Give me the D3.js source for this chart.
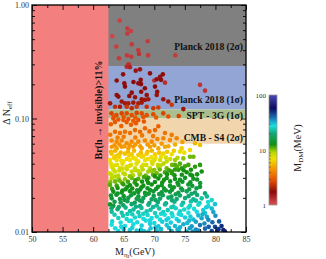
<!DOCTYPE html>
<html>
<head>
<meta charset="utf-8">
<script src="https://cdn.jsdelivr.net/npm/d3@7"></script>
<style>
  body { margin: 0; background: #fff; }
  svg { display: block; font-family: "Liberation Serif", "DejaVu Serif", serif; }
</style>
</head>
<body>
<script>
// ---- data ----
const xMajor = [50, 55, 60, 65, 70, 75, 80, 85]
const xMinor = [52.5, 57.5, 62.5, 67.5, 72.5, 77.5, 82.5]
const yMajor = [1, 0.1, 0.01]
const yMajorLabels = ['1.00', '0.10', '0.01']
const cbMajor = [1, 10, 100]

const higgsCut = 62.5          // Br(h -> invisible) > 11% for M below this
const bandLimits = [[0.29, 1.0], [0.12, 0.29], [0.10, 0.12], [0.06, 0.10]]
const bandNames = ['Planck 2018 (2σ)', 'Planck 2018 (1σ)', 'SPT - 3G (1σ)', 'CMB - S4 (2σ)']

// colour bar stops (M_DM in MeV)
const cStops = [1, 1.74, 2.75, 4.37, 6.9, 9.1, 12.6, 20, 27.5, 40, 57.5, 100]
const cColors = ['#e05050', '#8b0a0a', '#e44c00', '#f59000', '#f0e000', '#b8d800',
                 '#129012', '#10a878', '#18e0e0', '#1868b0', '#0a0a60', '#4a4ab8']

// points: [M_eta (GeV), Delta N_eff, M_DM (MeV)]
const ptsPlanck2 = [
  [64.34,0.73,1.15],[65.59,0.62,1.2],[66.19,0.59,1.15],[65.59,0.56,1.2],[63.13,0.53,1.1],[68.92,0.48,1.2],
  [63.79,0.43,1.15],[66.31,0.45,1.2],[67.39,0.40,1.2],[67.5,0.37,1.25],[65.54,0.36,1.2],[66.24,0.35,1.2],
  [64.23,0.34,1.2],[69.0,0.36,1.2],[73.44,0.36,1.2],[65.82,0.30,1.25]
]
const ptsPlanck1 = [
  [65.75,0.296,1.3],[65.49,0.286,1.35],[66.03,0.283,1.4],[66.96,0.264,1.6],[67.66,0.271,1.6],[63.85,0.216,1.7],
  [67.78,0.219,1.7],[67.39,0.204,1.7],[67.83,0.201,1.75],[65.1,0.204,1.7],[65.21,0.191,1.75],[70.0,0.216,1.3],
  [70.4,0.222,1.7],[70.94,0.233,1.65],[71.1,0.219,1.7],[70.12,0.191,1.75],[71.75,0.207,1.3],[77.48,0.198,1.25],
  [78.3,0.176,1.25],[68.46,0.185,1.75],[67.86,0.172,1.8],[70.48,0.172,1.8],[66.31,0.169,1.8],[63.85,0.161,1.8],
  [64.12,0.156,1.8],[65.91,0.158,1.8],[66.85,0.154,1.85],[68.76,0.161,1.8],[70.4,0.161,1.85],[67.94,0.148,1.85],
  [68.48,0.146,1.9],[69.02,0.148,1.9],[71.47,0.148,1.85],[72.29,0.141,1.9],[62.76,0.136,1.9],[64.67,0.141,1.9],
  [65.21,0.136,1.95],[65.75,0.136,2.0],[66.57,0.138,1.9],[67.39,0.136,2.0],[67.94,0.138,1.95],[72.85,0.132,2.4],
  [74.75,0.121,1.9],[63.58,0.127,2.3],[64.39,0.127,2.0],[65.49,0.127,2.4],[66.31,0.123,2.2],[67.12,0.127,2.4],
  [68.76,0.127,2.3],[69.84,0.123,2.4],[70.66,0.125,2.5],[64.9,0.245,1.7],[66.6,0.21,1.75],[69.3,0.25,1.7],
  [71.4,0.245,1.7]
]
const ptsSpt = [
  [63.0,0.111,2.6],[63.8,0.107,2.7],[64.67,0.111,2.6],[65.49,0.111,2.7],[66.31,0.107,2.8],[67.12,0.112,2.6],
  [67.94,0.111,2.7],[68.76,0.107,2.8],[69.84,0.109,2.7],[71.47,0.111,2.6],[72.29,0.104,2.8],[63.4,0.104,2.9],
  [65.0,0.103,2.9],[66.9,0.102,3.0],[68.2,0.103,2.9],[70.3,0.102,3.0],[74.0,0.105,2.6]
]
const ptsCmbs4 = [
  [63.30,0.100,2.8],[64.12,0.098,2.9],[64.94,0.097,2.9],[65.76,0.099,2.8],[66.57,0.0955,3.0],[67.39,0.097,2.9],
  [65.48,0.093,3.0],[63.58,0.093,3.0],[68.3,0.094,3.0],[62.9,0.089,3.1],[66.2,0.088,3.1],[67.0,0.091,3.0],
  [64.6,0.086,3.2],[70.66,0.0855,3.2],[70.12,0.079,3.3],[68.48,0.082,3.3],[67.67,0.0765,3.4],[66.85,0.079,3.4],
  [66.03,0.0745,3.5],[65.21,0.0765,3.5],[64.39,0.0745,3.5],[63.58,0.0765,3.4],[69.2,0.077,3.4],[62.8,0.072,3.6],
  [71.75,0.0745,3.6],[72.85,0.0717,3.8],[73.66,0.067,4.0],[72.57,0.0645,4.2],[71.48,0.067,4.0],[63.03,0.064,4.1],
  [63.85,0.0625,4.2],[64.67,0.064,4.1],[65.48,0.0605,4.3],[66.3,0.0625,4.2],[67.39,0.0625,4.2],[68.48,0.064,4.1],
  [69.57,0.0625,4.2],[70.5,0.066,4.0],[65.0,0.069,3.8],[66.9,0.068,3.8],[68.0,0.071,3.7],[69.8,0.070,3.7],
  [64.0,0.068,3.8],[76.66,0.0605,5.5],[74.6,0.062,4.8]
]
const ptsBelow = [
  [63.03,0.0563,4.6],[63.85,0.0545,4.8],[64.67,0.0563,4.6],[65.76,0.0545,4.8],[66.57,0.0563,4.7],[67.94,0.0545,4.9],
  [69.3,0.0563,4.8],[70.66,0.0545,5.0],[71.75,0.0563,5.0],[77.48,0.0584,5.8],[74.48,0.0545,6.2],[75.84,0.0527,6.5],
  [63.5,0.058,4.5],[64.3,0.059,4.4],[65.1,0.057,4.6],[66.0,0.058,4.5],[66.9,0.059,4.5],[67.7,0.057,4.7],
  [68.9,0.059,4.6],[70.0,0.058,4.7],[71.2,0.060,4.6],[72.3,0.057,5.0],[73.4,0.059,5.2],
  [62.9,0.051,5.4],[63.6,0.052,5.3],[64.5,0.050,5.6],[65.7,0.051,5.5],[66.7,0.052,5.4],[67.8,0.050,5.6],
  [68.9,0.051,5.6],[69.6,0.052,5.5],[70.8,0.050,5.8],[72.1,0.051,6.0],[73.2,0.052,6.2],[74.9,0.050,7.0],
  [63.03,0.049,5.8],[64.12,0.0477,6.0],[65.21,0.049,5.8],[66.3,0.0484,6.0],[67.39,0.0477,6.1],[68.76,0.049,6.0],
  [70.12,0.0484,6.2],[71.48,0.049,6.4],[72.85,0.0484,6.8],[74.21,0.0511,7.2],
  [63.4,0.045,6.4],[64.3,0.046,6.3],[65.5,0.044,6.6],[66.6,0.045,6.5],[67.9,0.046,6.5],[68.9,0.044,6.8],
  [70.2,0.045,7.0],[71.1,0.046,7.2],[72.6,0.044,8.0],[73.8,0.045,9.0],[76.4,0.046,10.5],
  [62.76,0.0431,6.8],[63.85,0.0431,6.8],[64.94,0.0418,7.0],[66.03,0.0431,6.9],[67.39,0.0418,7.1],[68.48,0.0431,7.0],
  [69.57,0.0418,7.4],[70.94,0.0431,7.8],[72.03,0.0418,8.5],[73.39,0.0431,9.5],[74.75,0.0445,10],[75.84,0.046,10.5],
  [62.9,0.040,7.2],[63.9,0.039,7.4],[64.8,0.040,7.3],[66.2,0.039,7.5],[67.1,0.040,7.4],[68.2,0.039,7.6],
  [69.7,0.040,7.8],[70.6,0.039,8.5],[71.5,0.040,9.0],[72.9,0.039,10.5],[74.2,0.040,11],[75.0,0.038,11.5],
  [63.03,0.0376,7.6],[64.39,0.0364,7.8],[65.48,0.0376,7.7],[66.85,0.0364,8.0],[67.94,0.0376,8.0],[69.3,0.0364,8.6],
  [70.66,0.0376,9.2],[72.03,0.0364,10.5],[73.39,0.039,11],[74.48,0.0364,12],[75.57,0.039,11.5],[76.66,0.0376,12],
  [77.48,0.039,12],
  [63.3,0.0355,8.0],[64.3,0.0348,8.2],[65.5,0.0357,8.1],[66.9,0.0350,8.5],[68.1,0.0355,8.8],[69.5,0.0347,9.5],
  [70.9,0.0356,10.5],[72.4,0.0349,11.5],[73.4,0.0355,12],[74.8,0.0350,12.5],[76.0,0.0354,12.5],
  [62.7,0.0329,8.3],[63.58,0.0341,8.1],[64.94,0.0329,8.4],[66.3,0.0341,8.5],[67.67,0.0329,9.0],[69.03,0.0341,9.5],
  [70.39,0.0329,10.5],[71.75,0.0336,11.5],[72.85,0.0341,12],[73.94,0.0353,12],[75.3,0.0336,12.5],[77.75,0.0341,13],
  [63.0,0.0320,8.6],[64.1,0.0315,8.8],[65.2,0.0322,8.8],[66.5,0.0316,9.2],[67.6,0.0321,9.6],[68.6,0.0314,10.5],
  [69.8,0.0320,11],[71.0,0.0315,12],[72.1,0.0322,12.5],[73.3,0.0316,12.5],[74.5,0.0319,13],[76.2,0.0314,13],
  [77.0,0.0322,13],
  [63.03,0.0297,9.0],[64.12,0.0303,9.2],[65.21,0.0292,9.8],[66.3,0.0299,10.5],[67.39,0.0294,11],[69.03,0.0301,12],
  [70.66,0.0296,12.5],[72.03,0.0299,13],[73.39,0.0293,13],[75.03,0.0300,13.5],[76.39,0.0295,13.5],
  [62.8,0.0275,10],[63.6,0.0279,10.5],[64.7,0.0272,11],[65.7,0.0277,11.5],[66.8,0.0273,12],[68.0,0.0278,12.5],
  [69.0,0.0271,12.5],[70.1,0.0276,13],[71.3,0.0273,13],[72.6,0.0279,13.5],[73.8,0.0272,13.5],[74.6,0.0277,14],
  [75.9,0.0274,14],[77.5,0.0270,15],
  [62.76,0.0260,11],[63.85,0.0257,11.5],[64.94,0.0263,12],[66.03,0.0258,12.5],[67.12,0.0261,12.5],[68.21,0.0256,13],
  [69.57,0.0262,13],[71.21,0.0258,13.5],[72.57,0.0255,14],[73.94,0.0260,14],[75.57,0.0262,14.5],[77.48,0.0250,15],
  [63.1,0.0240,12],[64.0,0.0244,12.5],[65.3,0.0238,13],[66.4,0.0242,13],[67.7,0.0237,13.5],[68.9,0.0243,13.5],
  [70.3,0.0239,14],[71.6,0.0241,14],[72.9,0.0236,14.5],[74.4,0.0242,15],[75.7,0.0238,15.5],[76.9,0.0243,16],
  [63.3,0.0227,13],[64.67,0.0223,13.5],[66.03,0.0229,13.5],[67.39,0.0225,14],[68.48,0.0221,14],[69.85,0.0228,14.5],
  [71.21,0.0224,15],[72.57,0.0226,15],[73.94,0.0222,16],[75.3,0.0228,17],[76.66,0.0223,18],[78.3,0.0219,20],
  [62.9,0.0210,14],[63.8,0.0213,14],[65.0,0.0207,14.5],[66.2,0.0211,15],[67.4,0.0206,15],[68.6,0.0212,15.5],
  [69.9,0.0208,16],[71.4,0.0211,16.5],[72.8,0.0205,17],[74.2,0.0210,18],[75.6,0.0207,19],[77.0,0.0212,20],
  [78.6,0.0206,22],
  [63.03,0.0198,15],[64.39,0.0195,15.5],[65.76,0.0200,16],[67.12,0.0196,16.5],[68.21,0.0199,17],[69.57,0.0194,17.5],
  [70.94,0.0197,18],[72.3,0.0201,18.5],[73.66,0.0195,19],[75.03,0.0199,20],[76.39,0.0194,21],[77.75,0.0198,23],
  [79.39,0.0191,26],
  [63.5,0.0185,16],[64.5,0.0182,16.5],[65.6,0.0187,17],[66.8,0.0181,17.5],[68.0,0.0186,18],[69.2,0.0180,19],
  [70.6,0.0184,19.5],[71.9,0.0179,20],[73.3,0.0185,21],[74.7,0.0181,22],[76.0,0.0186,23],[77.4,0.0180,25],
  [78.8,0.0184,27],
  [62.76,0.0175,14],[63.3,0.0170,15],[64.94,0.0172,18],[66.3,0.0176,19],[67.67,0.0169,20],[69.03,0.0174,21],
  [70.39,0.0171,22],[71.75,0.0175,22],[73.12,0.0168,23],[74.48,0.0173,24],[75.84,0.0170,25],[77.21,0.0174,26],
  [78.84,0.0169,28],[79.93,0.0176,30],
  [63.0,0.0162,19],[64.0,0.0159,20],[65.3,0.0164,21],[66.6,0.0158,22],[67.9,0.0163,22],[69.4,0.0157,23],
  [70.8,0.0161,23],[72.2,0.0156,24],[73.5,0.0162,25],[74.9,0.0158,26],[76.5,0.0160,27],[78.0,0.0156,29],
  [79.4,0.0161,31],
  [63.03,0.0151,22],[64.67,0.0148,23],[66.03,0.0153,23],[67.39,0.0149,24],[68.76,0.0152,24],[70.12,0.0147,25],
  [71.48,0.0150,25],[72.85,0.0146,26],[74.21,0.0152,26],[75.57,0.0148,27],[76.94,0.0151,28],[78.3,0.0147,30],
  [79.66,0.0150,33],
  [63.5,0.0142,24],[64.9,0.0139,24],[66.4,0.0143,25],[67.6,0.0138,25],[68.9,0.0141,26],[70.4,0.0137,26],
  [71.7,0.0142,27],[73.0,0.0138,27],[74.4,0.0141,28],[75.9,0.0137,29],[77.2,0.0140,31],[78.6,0.0136,33],
  [80.0,0.0139,35],
  [64.12,0.0133,25],[65.48,0.0130,26],[66.85,0.0134,26],[68.21,0.0131,27],[69.57,0.0133,27],[70.94,0.0129,27],
  [72.3,0.0132,28],[73.66,0.0130,28],[75.03,0.0134,29],[76.39,0.0129,31],[77.75,0.0132,33],[78.84,0.0128,36],
  [63.1,0.0124,26],[64.5,0.0121,27],[65.9,0.0125,27],[67.2,0.0122,28],[68.6,0.0126,28],[70.0,0.0120,28],
  [71.3,0.0123,29],[72.7,0.0121,29],[74.0,0.0125,30],[75.4,0.0120,31],[76.8,0.0123,33],[78.2,0.0119,36],
  [79.5,0.0122,40],
  [63.03,0.0116,27],[65.21,0.0113,28],[66.57,0.0117,28],[67.94,0.0114,29],[69.3,0.0118,29],[70.66,0.0112,30],
  [72.03,0.0115,30],[73.39,0.0113,31],[74.75,0.0117,32],[76.12,0.0112,34],[77.48,0.0115,38],[79.93,0.0111,45],
  [63.6,0.0108,28],[65.0,0.0106,29],[66.4,0.0109,29],[67.8,0.0105,30],[69.4,0.0108,30],[71.1,0.0106,31],
  [72.4,0.0109,31],[73.8,0.0105,32],[75.8,0.0108,34],[76.8,0.0105,36],[78.3,0.0107,40],[80.5,0.0106,48],
  [64.12,0.0102,28],[67.12,0.0103,29],[69.03,0.0101,30],[70.39,0.0103,30],[72.85,0.0102,31],[75.3,0.0101,33],
  [77.21,0.0103,36],[79.39,0.0102,45],[81.3,0.0104,52],[81.57,0.0101,55]
]
// scattered points between the rows above
const ptsFill = [
  [63.7,0.0465,6.2],[65.9,0.0472,6.3],[68.2,0.0468,6.4],[69.5,0.0455,6.8],[64.6,0.0425,6.9],[67.0,0.0438,7.0],
  [70.0,0.0428,7.6],[71.9,0.0452,7.8],[63.4,0.0385,7.4],[65.9,0.0382,7.6],[68.7,0.0390,7.9],[71.0,0.0385,9.0],
  [73.7,0.0378,11],[64.8,0.0362,8],[67.4,0.0344,8.8],[70.0,0.0352,10],[72.9,0.0330,12],[75.9,0.0320,13],
  [63.6,0.0308,9],[66.0,0.0310,10],[68.3,0.0305,11.5],[70.1,0.0309,12.5],[71.6,0.0288,13],[74.2,0.0289,13.5],
  [77.0,0.0290,14],[64.3,0.0285,10.5],[66.9,0.0285,12],[68.8,0.0288,12.5],[65.6,0.0250,12.5],[67.9,0.0248,13],
  [70.6,0.0250,13.5],[73.2,0.0248,14],[76.2,0.0255,15],[64.8,0.0232,13],[67.2,0.0233,14],[69.3,0.0234,14],
  [71.9,0.0232,15],[74.6,0.0234,16],[64.0,0.0218,14],[66.7,0.0219,14.5],[69.1,0.0218,15],[70.8,0.0216,16],
  [73.5,0.0215,17],[76.1,0.0217,19],[65.1,0.0192,15.5],[67.6,0.0190,16.5],[70.2,0.0191,18],[72.9,0.0190,19.5],
  [76.8,0.0189,22],[64.2,0.0166,19],[67.0,0.0167,21],[69.8,0.0166,22],[72.8,0.0165,24],[75.6,0.0164,26],
  [78.5,0.0165,29],[65.6,0.0144,24],[68.2,0.0145,25],[71.1,0.0145,26],[74.0,0.0144,28],[77.9,0.0143,32],
  [66.2,0.0126,27],[69.3,0.0127,28],[72.0,0.0128,29],[75.7,0.0126,31],[80.6,0.0124,42],[64.6,0.0111,28],
  [70.2,0.0110,30],[74.2,0.0110,32],[78.9,0.0111,42],[81.0,0.0113,50],[66.0,0.0104,29],[68.3,0.0102,30],
  [74.0,0.0103,32],[76.3,0.0101,34],[80.3,0.0102,50]
]

// ---- layout / style ----
const W = 326, H = 259
const plot = { left: 32, right: 246, top: 5, bottom: 232 }
const cb = { left: 269, right: 277, top: 95, bottom: 205 }
const bandColors = ['#808080', '#92a5d5', '#aabf8d', '#f1d5ad']
const cutColor = '#f47f7f'
const bandLabelAt = [0.43, 0.148, 0.106, 0.068]

const svg = d3.select('body').append('svg')
  .attr('width', W)
  .attr('height', H)

const x = d3.scaleLinear().domain([50, 85]).range([plot.left, plot.right])
const y = d3.scaleLog().domain([0.01, 1]).range([plot.bottom, plot.top])
const color = d3.scaleLog().domain(cStops).range(cColors).interpolate(d3.interpolateRgb).clamp(true)

svg.append('clipPath').attr('id', 'clip')
  .append('rect')
  .attr('x', plot.left).attr('y', plot.top)
  .attr('width', plot.right - plot.left).attr('height', plot.bottom - plot.top)

const g = svg.append('g').attr('clip-path', 'url(#clip)')

// bands
g.selectAll('rect.band').data(bandLimits).join('rect')
  .attr('class', 'band')
  .attr('x', x(50))
  .attr('width', x(85) - x(50))
  .attr('y', d => y(d[1]))
  .attr('height', d => y(d[0]) - y(d[1]))
  .attr('fill', (d, i) => bandColors[i])

// excluded region from higgs invisible width
g.append('rect')
  .attr('x', x(50)).attr('y', plot.top)
  .attr('width', x(higgsCut) - x(50))
  .attr('height', plot.bottom - plot.top)
  .attr('fill', cutColor)

// scatter
const allPts = [].concat(ptsPlanck2, ptsPlanck1, ptsSpt, ptsCmbs4, ptsBelow, ptsFill)
g.selectAll('circle').data(allPts).join('circle')
  .attr('cx', d => x(d[0]))
  .attr('cy', d => y(d[1]))
  .attr('r', 2.3)
  .attr('fill', d => color(d[2]))

// band labels
svg.selectAll('text.band').data(bandNames).join('text')
  .attr('class', 'band')
  .attr('x', plot.right - 3)
  .attr('y', (d, i) => y(bandLabelAt[i]))
  .attr('dy', '0.35em')
  .attr('text-anchor', 'end')
  .attr('font-size', 9.6)
  .attr('font-weight', 'bold')
  .attr('fill', '#111')
  .text(d => d)

svg.append('text')
  .attr('transform', `translate(${x(higgsCut) - 10},110) rotate(-90)`)
  .attr('text-anchor', 'middle')
  .attr('dy', '0.35em')
  .attr('font-size', 10)
  .attr('font-weight', 'bold')
  .attr('fill', '#111')
  .text('Br(h → invisible)>11%')

// axes
const tickFont = 8
function styleAxis(sel) {
  sel.select('.domain').remove()
  sel.selectAll('line').attr('stroke', '#000').attr('stroke-width', 0.9)
  sel.selectAll('text').attr('font-size', tickFont).attr('fill', '#333')
    .attr('font-family', '"Liberation Serif", "DejaVu Serif", serif')
}

const yMinor = y.ticks().filter(v => !yMajor.some(m => Math.abs(m - v) < 1e-9))

svg.append('g').attr('transform', `translate(0,${plot.bottom})`)
  .call(d3.axisBottom(x).tickValues(xMajor).tickSize(-5).tickPadding(4).tickFormat(d3.format('d')))
  .call(styleAxis)
svg.append('g').attr('transform', `translate(0,${plot.bottom})`)
  .call(d3.axisBottom(x).tickValues(xMinor).tickSize(-3).tickFormat(''))
  .call(styleAxis)
svg.append('g').attr('transform', `translate(0,${plot.top})`)
  .call(d3.axisTop(x).tickValues(xMajor).tickSize(-5).tickFormat(''))
  .call(styleAxis)
svg.append('g').attr('transform', `translate(0,${plot.top})`)
  .call(d3.axisTop(x).tickValues(xMinor).tickSize(-3).tickFormat(''))
  .call(styleAxis)

svg.append('g').attr('transform', `translate(${plot.left},0)`)
  .call(d3.axisLeft(y).tickValues(yMajor).tickSize(-5).tickPadding(3)
    .tickFormat((d, i) => yMajorLabels[i]))
  .call(styleAxis)
svg.append('g').attr('transform', `translate(${plot.left},0)`)
  .call(d3.axisLeft(y).tickValues(yMinor).tickSize(-3).tickFormat(''))
  .call(styleAxis)
svg.append('g').attr('transform', `translate(${plot.right},0)`)
  .call(d3.axisRight(y).tickValues(yMajor).tickSize(-5).tickFormat(''))
  .call(styleAxis)
svg.append('g').attr('transform', `translate(${plot.right},0)`)
  .call(d3.axisRight(y).tickValues(yMinor).tickSize(-3).tickFormat(''))
  .call(styleAxis)

svg.append('rect')
  .attr('x', plot.left).attr('y', plot.top)
  .attr('width', plot.right - plot.left).attr('height', plot.bottom - plot.top)
  .attr('fill', 'none').attr('stroke', '#000').attr('stroke-width', 1.3)

// axis titles
const xt = svg.append('text')
  .attr('x', 135).attr('y', 255)
  .attr('text-anchor', 'middle')
  .attr('font-size', 10)
  .attr('fill', '#222')
xt.append('tspan').text('M')
xt.append('tspan').attr('font-size', 7).attr('dy', 2).text('η')
xt.append('tspan').attr('font-size', 5).attr('dy', 1).text('I')
xt.append('tspan').attr('dy', -3).text('(GeV)')

const yt = svg.append('text')
  .attr('transform', 'translate(10,113) rotate(-90)')
  .attr('text-anchor', 'middle')
  .attr('font-size', 10)
  .attr('fill', '#222')
yt.append('tspan').text('Δ N')
yt.append('tspan').attr('font-size', 7).attr('dy', 2).text('eff')

// colour bar
const cy = d3.scaleLog().domain([1, 100]).range([cb.bottom, cb.top])
const grad = svg.append('defs').append('linearGradient')
  .attr('id', 'cbgrad')
  .attr('x1', 0).attr('y1', 1).attr('x2', 0).attr('y2', 0)
grad.selectAll('stop').data(cStops).join('stop')
  .attr('offset', d => (cb.bottom - cy(d)) / (cb.bottom - cb.top))
  .attr('stop-color', d => color(d))

svg.append('rect')
  .attr('x', cb.left).attr('y', cb.top)
  .attr('width', cb.right - cb.left).attr('height', cb.bottom - cb.top)
  .attr('fill', 'url(#cbgrad)')
  .attr('stroke', '#999').attr('stroke-width', 0.8)

const cbMinor = cy.ticks().filter(v => !cbMajor.includes(v))
svg.append('g').attr('transform', `translate(${cb.left},0)`)
  .call(d3.axisLeft(cy).tickValues(cbMinor).tickSize(-2).tickFormat(''))
  .call(styleAxis)
  .selectAll('line').attr('stroke', '#444').attr('stroke-width', 0.6)
svg.append('g').attr('transform', `translate(${cb.left},0)`)
  .call(d3.axisLeft(cy).tickValues(cbMajor).tickSize(0).tickPadding(3).tickFormat(d3.format('d')))
  .call(styleAxis)
  .selectAll('text').attr('font-size', 7)

const ct = svg.append('text')
  .attr('transform', 'translate(301,148) rotate(-90)')
  .attr('text-anchor', 'middle')
  .attr('font-size', 10)
  .attr('fill', '#222')
ct.append('tspan').text('M')
ct.append('tspan').attr('font-size', 7).attr('dy', 2).text('DM')
ct.append('tspan').attr('dy', -2).text('(MeV)')
</script>
</body>
</html>
